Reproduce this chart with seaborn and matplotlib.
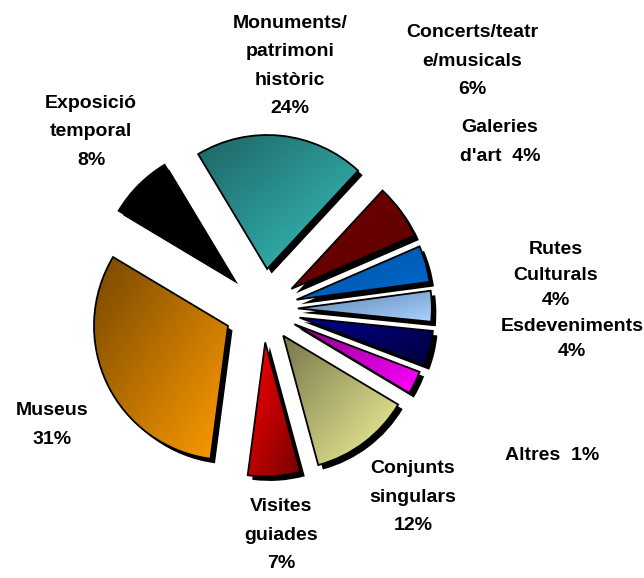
import numpy as np
import matplotlib
matplotlib.use("Agg")
import matplotlib.pyplot as plt
import seaborn as sns

# slice sizes (clockwise from Monuments)
categories = ["Monuments/\npatrimoni\nhistòric", "Concerts/teatr\ne/musicals", "Galeries\nd'art",
              "Rutes\nCulturals", "Esdeveniments", "Altres", "Conjunts\nsingulars",
              "Visites\nguiades", "Museus", "Exposició\ntemporal"]
shares = [20.5, 6.6, 4.4, 3.7, 4.2, 2.8, 12.2, 6.3, 31.5, 7.8]
# percentages as printed in the labels
pct_text = ["24%", "6%", "4%", "4%", "4%", "1%", "12%", "7%", "31%", "8%"]

# gradient colours (top-left -> bottom-right) per slice
grad_start = ["#1f6464", "#720000", "#0050a0", "#5b82ad", "#00008a", "#8a008a",
              "#77774c", "#ff0000", "#784800", "#000000"]
grad_end = ["#36c2be", "#5c0000", "#006ad0", "#aad2ff", "#00003c", "#ff00ff",
            "#f4f49a", "#760000", "#ff9c00", "#000000"]
explode = [0.30, 0.26, 0.26, 0.26, 0.28, 0.26, 0.25, 0.25, 0.29, 0.31]

# label anchors in pixels (x, y from top)
label_x = [290, 472, 500, 556, 572, 552, 413, 281, 52, 91]
label_y = [66, 61, 142, 275, 339, 456, 497, 535, 425, 132]
label_spacing = [1.85, 1.85, 1.85, 1.65, 1.65, 1.85, 1.85, 1.85, 1.85, 1.85]

W, H = 644, 578
CX, CY, R = 263, 309, 134   # pie centre and radius in pixels

sns.set_theme(style="white")
plt.rcParams["font.family"] = ["Liberation Sans", "DejaVu Sans"]

fig = plt.figure(figsize=(W / 100, H / 100), dpi=100)
ax = fig.add_axes([0, 0, 1, 1])

# drop shadow
off = 4.5 / R
shadow, _ = ax.pie(shares, explode=explode, startangle=121, counterclock=False,
                   center=(off, -off), colors=["black"] * len(shares),
                   wedgeprops=dict(linewidth=0))
for s in shadow:
    s.set_zorder(1)

wedges, _ = ax.pie(shares, explode=explode, startangle=121, counterclock=False,
                   center=(0, 0), wedgeprops=dict(edgecolor="black", linewidth=1.3))

gx, gy = np.meshgrid(np.linspace(0, 1, 120), np.linspace(0, 1, 120))
grad = (gx + gy) / 2
for w, c0, c1 in zip(wedges, grad_start, grad_end):
    w.set_facecolor("none")
    w.set_zorder(3)
    bb = w.get_path().get_extents()
    cmap = sns.blend_palette([c0, c1], n_colors=256, as_cmap=True)
    im = ax.imshow(grad, cmap=cmap, extent=(bb.x0, bb.x1, bb.y0, bb.y1),
                   origin="upper", interpolation="bilinear", zorder=2)
    im.set_clip_path(w)

ax.set_xlim(-CX / R, (W - CX) / R)
ax.set_ylim(-(H - CY) / R, CY / R)
ax.set_aspect("equal")
ax.axis("off")

for name, pct, x, y, ls in zip(categories, pct_text, label_x, label_y, label_spacing):
    if name.startswith("Galeries"):
        txt = "Galeries\nd'art  " + pct
    elif name == "Altres":
        txt = "Altres  " + pct
    else:
        txt = name + "\n" + pct
    fig.text(x / W, 1 - y / H, txt, ha="center", va="center", multialignment="center",
             fontsize=14, fontweight="bold", linespacing=ls, color="black")

fig.savefig("out.png", dpi=100)
